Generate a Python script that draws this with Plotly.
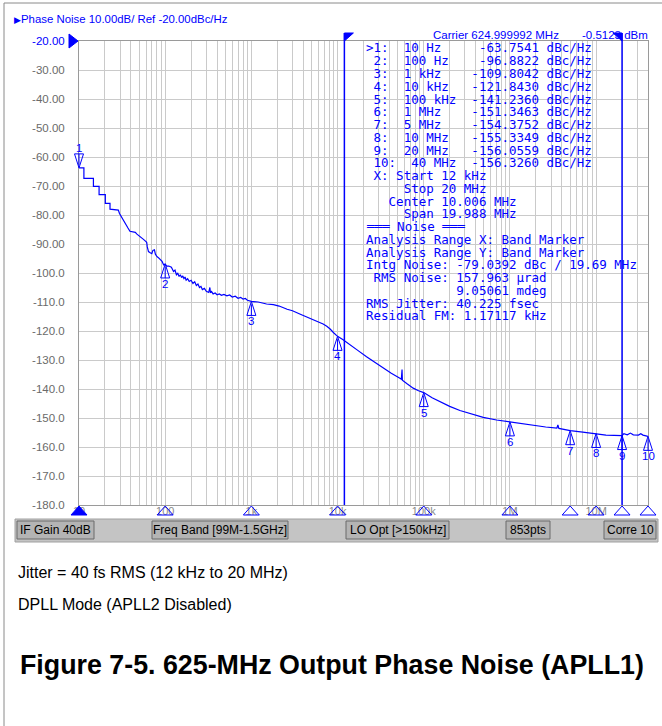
import math
import plotly.graph_objects as go

# ---------------- data ----------------
freq_hz = [10, 11.4, 11.4, 14.7, 14.7, 17.1, 17.1, 20.2, 20.2, 22.9, 22.9, 26.5, 28.6,
           29.5, 31, 33, 35, 37, 39, 42, 45, 47, 50, 53, 56, 59, 61, 62, 64, 67, 70, 72,
           75, 77, 80, 84, 88, 92, 96, 100, 104, 110, 118, 125, 130, 135, 140, 145, 150,
           155, 160, 165, 170, 175, 182, 190, 200, 210, 220, 230, 240, 250, 260, 270, 285,
           300, 320, 330, 335, 345, 360, 380, 400, 425, 450, 480, 520, 560, 600, 650, 700,
           750, 800, 850, 900, 1000, 1200, 1500, 1800, 2100, 2600, 3000, 3700, 4800, 5700,
           6800, 7500, 8200, 9000, 10000, 11600, 13900, 17000, 21700, 27000, 33900, 42000,
           52900, 55000, 56000, 56500, 64000, 75500, 87000, 100000, 125000, 154000, 200000,
           263000, 350000, 490000, 700000, 1000000, 1400000, 1860000, 2600000, 3500000,
           3600000, 3700000, 5000000, 7000000, 10000000, 13000000, 20000000, 21000000,
           23000000, 25000000, 27000000, 31000000, 33000000, 35000000, 40000000]
pn_dbc = [-63.75, -63.75, -67.4, -67.4, -70.1, -70.1, -73.0, -73.0, -76.0, -76.0, -78.0,
          -78.3, -78.3, -79.5, -80.5, -82.0, -83.0, -84.5, -85.6, -85.8, -86.0, -86.6,
          -87.2, -87.6, -88.4, -89.0, -89.4, -91.0, -92.6, -93.0, -93.3, -92.2, -92.0,
          -93.5, -94.3, -94.8, -95.4, -96.0, -97.2, -96.88, -97.6, -97.6, -98.0, -99.5,
          -99.0, -100.6, -100.1, -101.2, -100.6, -101.6, -101.0, -101.9, -101.4, -102.5,
          -102.0, -102.9, -102.5, -103.6, -103.0, -104.3, -103.8, -105.0, -104.6, -105.7,
          -105.3, -106.3, -106.7, -105.0, -106.8, -106.4, -107.2, -106.9, -107.5, -107.2,
          -107.7, -107.4, -107.9, -107.6, -108.3, -108.0, -108.7, -108.4, -109.0, -108.8,
          -109.4, -109.8, -110.0, -110.7, -110.9, -111.4, -112.5, -113.0, -114.2, -115.6,
          -116.6, -117.6, -118.4, -119.3, -120.6, -121.84, -123.0, -124.8, -126.6, -128.9,
          -130.8, -132.9, -134.6, -136.3, -136.6, -133.3, -137.0, -138.2, -139.7, -140.6,
          -141.24, -143.0, -144.4, -146.0, -147.4, -148.6, -149.8, -150.7, -151.35, -152.1,
          -152.6, -153.1, -153.5, -152.4, -153.6, -154.38, -154.9, -155.33, -155.9, -156.06,
          -155.4, -155.8, -155.2, -155.8, -155.9, -155.4, -155.9, -156.33]

marker_ids = ["1", "2", "3", "4", "5", "6", "7", "8", "9", "10"]
marker_freq_hz = [10, 100, 1e3, 1e4, 1e5, 1e6, 5e6, 1e7, 2e7, 4e7]
marker_freq_text = ["10 Hz", "100 Hz", "1 kHz", "10 kHz", "100 kHz", "1 MHz", "5 MHz",
                    "10 MHz", "20 MHz", "40 MHz"]
marker_dbc = [-63.7541, -96.8822, -109.8042, -121.8430, -141.2360, -151.3463, -154.3752,
              -155.3349, -156.0559, -156.3260]
active_marker = 0

band_start_hz = 12e3
band_stop_hz = 20e6

y_ticks = [-20, -30, -40, -50, -60, -70, -80, -90, -100, -110, -120, -130, -140, -150,
           -160, -170, -180]
y_tick_text = ["-20.00", "-30.00", "-40.00", "-50.00", "-60.00", "-70.00", "-80.00",
               "-90.00", "-100.0", "-110.0", "-120.0", "-130.0", "-140.0", "-150.0",
               "-160.0", "-170.0", "-180.0"]
decade_ticks = [10, 100, 1e3, 1e4, 1e5, 1e6, 1e7]
decade_labels = ["10", "100", "1k", "10k", "100k", "1M", "10M"]

info_lines = [" X: Start 12 kHz", "     Stop 20 MHz", "   Center 10.006 MHz",
              "     Span 19.988 MHz", "═══ Noise ═══", "Analysis Range X: Band Marker",
              "Analysis Range Y: Band Marker", "Intg Noise: -79.0392 dBc / 19.69 MHz",
              " RMS Noise: 157.963 µrad", "            9.05061 mdeg",
              "RMS Jitter: 40.225 fsec", "Residual FM: 1.17117 kHz"]
status_items = ["IF Gain 40dB", "Freq Band [99M-1.5GHz]", "LO Opt [>150kHz]", "853pts",
                "Corre 10"]
title_text = "Phase Noise 10.00dB/ Ref -20.00dBc/Hz"
carrier_text = "Carrier 624.999992 MHz"
power_text = "-0.5123 dBm"
note_lines = ["Jitter = 40 fs RMS (12 kHz to 20 MHz)", "DPLL Mode (APLL2 Disabled)"]
caption = "Figure 7-5. 625-MHz Output Phase Noise (APLL1)"

# ---------------- layout geometry ----------------
W, H = 662, 726
L, R, T, B = 79, 648, 41, 505
XMIN, XMAX = 1.0, math.log10(4e7)
YMIN, YMAX = -180, -20
BLUE = "#0000ff"
GRAY_TXT = "#6a6a6a"


def PX(p):
    return (p - L) / (R - L)


def PY(p):
    return (B - p) / (B - T)


def fx(f):
    return (math.log10(f) - XMIN) / (XMAX - XMIN)


def fy(v):
    return (v - YMIN) / (YMAX - YMIN)


grid_vals = [m * 10 ** k for k in range(1, 8) for m in range(1, 10) if m * 10 ** k <= 4e7]
grid_text = []
for g in grid_vals:
    lab = ""
    for d, t in zip(decade_ticks, decade_labels):
        if abs(g - d) < 1e-6:
            lab = t
    grid_text.append(lab)

y_text_html = [('<span style="color:%s">%s</span>' % (BLUE, t)) if i == 0 else t
               for i, t in enumerate(y_tick_text)]

fig = go.Figure()
fig.add_trace(go.Scatter(x=freq_hz, y=pn_dbc, mode="lines",
                         line=dict(color=BLUE, width=1.2), hoverinfo="skip"))

shapes = []
annotations = []

# outer frame (left / top)
shapes.append(dict(type="line", xref="paper", yref="paper", x0=PX(4), x1=PX(4), y0=PY(3),
                   y1=PY(726), line=dict(color="#8a8a8a", width=1)))
shapes.append(dict(type="line", xref="paper", yref="paper", x0=PX(4), x1=PX(662), y0=PY(3),
                   y1=PY(3), line=dict(color="#8a8a8a", width=1)))

# band marker lines + flags
for f, flag in [(band_start_hz, "M 0,8 L 9,8 L 0,0 Z"), (band_stop_hz, "M 0,8 L -9,8 L 0,0 Z")]:
    shapes.append(dict(type="line", xref="paper", yref="paper", x0=fx(f), x1=fx(f), y0=0,
                       y1=PY(33), line=dict(color=BLUE, width=1.5)))
    shapes.append(dict(type="path", xref="paper", yref="paper", xsizemode="pixel",
                       ysizemode="pixel", xanchor=fx(f), yanchor=1, path=flag,
                       fillcolor=BLUE, line=dict(color=BLUE, width=1)))

# reference level arrow
shapes.append(dict(type="path", xref="paper", yref="paper", xsizemode="pixel",
                   ysizemode="pixel", xanchor=0, yanchor=1, path="M -10,7 L -1,0 L -10,-7 Z",
                   fillcolor=BLUE, line=dict(color=BLUE, width=1)))

# markers
for i, (mid, f, v) in enumerate(zip(marker_ids, marker_freq_hz, marker_dbc)):
    if i == active_marker:
        glyph = "M 0,0 L -4.5,14 L 4.5,14 Z M 0,3 L 0,14"
        shift = 20
    else:
        glyph = "M 0,0 L -4.5,-14 L 4.5,-14 Z M 0,-3 L 0,-14"
        shift = -20
    shapes.append(dict(type="path", xref="paper", yref="paper", xsizemode="pixel",
                       ysizemode="pixel", xanchor=fx(f), yanchor=fy(v), path=glyph,
                       fillcolor="rgba(0,0,0,0)", line=dict(color=BLUE, width=1)))
    annotations.append(dict(xref="paper", yref="paper", x=fx(f), y=fy(v), yshift=shift,
                            text=mid, showarrow=False, xanchor="center", yanchor="middle",
                            font=dict(family="Liberation Sans", size=11.5, color=BLUE)))
    # bottom triangle
    shapes.append(dict(type="path", xref="paper", yref="paper", xsizemode="pixel",
                       ysizemode="pixel", xanchor=fx(f), yanchor=0,
                       path="M 0,-1 L 8,-10 L -8,-10 Z",
                       fillcolor=BLUE if i == active_marker else "rgba(0,0,0,0)",
                       line=dict(color=BLUE, width=1)))

# marker table
table_lines = []
for i, (mid, ft, v) in enumerate(zip(marker_ids, marker_freq_text, marker_dbc)):
    lab = (">" if i == active_marker else " ") + mid + ":" if len(mid) == 1 else " " + mid + ":"
    head = lab + "  " + ft
    val = "%.4f" % v
    table_lines.append(head.ljust(23 - len(val)) + val + " dBc/Hz")
table_lines += info_lines
for k, line in enumerate(table_lines):
    annotations.append(dict(xref="paper", yref="paper", x=PX(364), y=PY(48 + 12.75 * k),
                            text=line.replace(" ", "\u00a0"), showarrow=False,
                            xanchor="left", yanchor="middle",
                            font=dict(family="DejaVu Sans Mono", size=12.5, color=BLUE)))

# header texts
annotations.append(dict(xref="paper", yref="paper", x=PX(12), y=PY(19),
                        text='<span style="font-size:9px">▶</span>' + title_text,
                        showarrow=False, xanchor="left", yanchor="middle",
                        font=dict(family="Liberation Sans", size=11.4, color=BLUE)))
annotations.append(dict(xref="paper", yref="paper", x=PX(431), y=PY(35), text=carrier_text,
                        showarrow=False, xanchor="left", yanchor="middle",
                        font=dict(family="Liberation Sans", size=11.5, color=BLUE)))
annotations.append(dict(xref="paper", yref="paper", x=PX(580), y=PY(35), text=power_text,
                        showarrow=False, xanchor="left", yanchor="middle",
                        font=dict(family="Liberation Sans", size=11.5, color=BLUE)))

# status bar
shapes.append(dict(type="rect", xref="paper", yref="paper", x0=PX(15), x1=PX(658),
                   y0=PY(519), y1=PY(542), fillcolor="#c4c4c4",
                   line=dict(color="#a0a0a0", width=1), layer="above"))
btn_px = [(17, 94), (152, 288), (346, 449), (506, 550), (604, 656)]
for (a, b), txt in zip(btn_px, status_items):
    shapes.append(dict(type="rect", xref="paper", yref="paper", x0=PX(a), x1=PX(b),
                       y0=PY(521), y1=PY(539), fillcolor="#b4b4b4",
                       line=dict(color="#6a6a6a", width=1)))
    annotations.append(dict(xref="paper", yref="paper", x=PX((a + b) / 2), y=PY(530),
                            text=txt, showarrow=False, xanchor="center", yanchor="middle",
                            font=dict(family="Liberation Sans", size=12, color="#000000")))

# notes and caption
for k, t in enumerate(note_lines):
    annotations.append(dict(xref="paper", yref="paper", x=PX(16), y=PY(572 + 32 * k),
                            text=t, showarrow=False, xanchor="left", yanchor="middle",
                            font=dict(family="Liberation Sans", size=16, color="#000000")))
annotations.append(dict(xref="paper", yref="paper", x=PX(332), y=PY(665),
                        text="<b>%s</b>" % caption, showarrow=False, xanchor="center",
                        yanchor="middle",
                        font=dict(family="Liberation Sans", size=26.8, color="#000000")))

fig.update_layout(
    width=W, height=H, autosize=False,
    margin=dict(l=L, r=W - R, t=T, b=H - B, pad=0),
    paper_bgcolor="white", plot_bgcolor="white", showlegend=False,
    shapes=shapes, annotations=annotations,
    xaxis=dict(type="log", range=[XMIN, XMAX], tickmode="array", tickvals=grid_vals,
               ticktext=grid_text, showgrid=True, gridcolor="#cacaca", gridwidth=1,
               showline=True, mirror=True, linecolor="#9a9a9a", linewidth=1, ticks="",
               zeroline=False, ticklabelstandoff=-4,
               tickfont=dict(family="Liberation Sans", size=11, color="#8a8a8a")),
    yaxis=dict(range=[YMIN, YMAX], tickmode="array", tickvals=y_ticks,
               ticktext=y_text_html, showgrid=True, gridcolor="#cacaca", gridwidth=1,
               showline=True, mirror=True, linecolor="#9a9a9a", linewidth=1, ticks="",
               zeroline=False, ticklabelstandoff=11,
               tickfont=dict(family="Liberation Sans", size=11.5, color=GRAY_TXT)),
)

fig.write_html("out.html", config={"displayModeBar": False},
               post_script="document.body.style.margin='0';document.body.style.overflow='hidden';")
